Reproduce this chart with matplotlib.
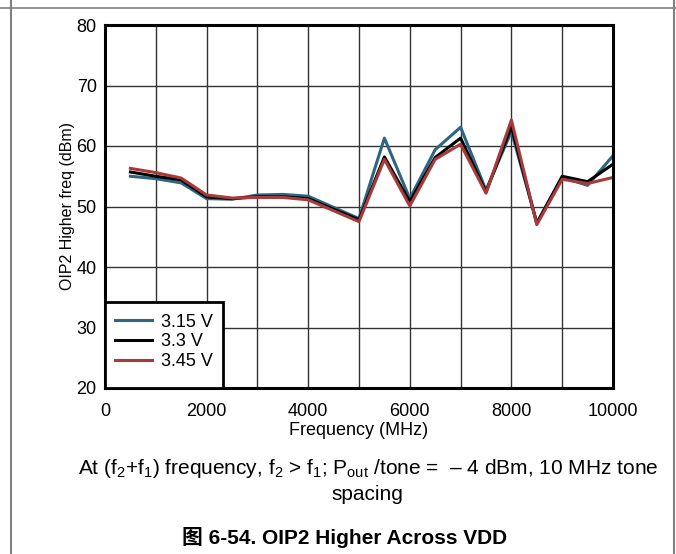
import matplotlib.pyplot as plt
from matplotlib.lines import Line2D
from matplotlib.patches import Rectangle

plt.rcParams['font.family'] = ['Liberation Sans', 'Noto Sans CJK SC', 'DejaVu Sans']
plt.rcParams['mathtext.fontset'] = 'custom'
plt.rcParams['mathtext.rm'] = 'Liberation Sans'
plt.rcParams['mathtext.it'] = 'Liberation Sans'

freq = [500, 1000, 1500, 2000, 2500, 3000, 3500, 4000, 5000, 5500,
        6000, 6500, 7000, 7500, 8000, 8500, 9000, 9500, 10000]
v315 = [55.0, 54.6, 53.9, 51.3, 51.2, 51.9, 52.0, 51.7, 48.0, 61.3,
        51.3, 59.4, 63.1, 52.7, 62.4, 47.3, 54.8, 53.5, 58.4]
v330 = [55.7, 55.0, 54.4, 51.6, 51.3, 51.6, 51.6, 51.3, 47.8, 58.2,
        50.8, 58.1, 61.3, 52.4, 63.2, 47.2, 55.0, 54.1, 57.0]
v345 = [56.3, 55.6, 54.7, 51.9, 51.4, 51.5, 51.5, 51.1, 47.5, 57.8,
        50.1, 57.8, 60.3, 52.2, 64.3, 47.0, 54.5, 53.8, 54.8]
labels = ["3.15 V", "3.3 V", "3.45 V"]
colors = ["#2e6580", "#000000", "#a83a3c"]

W, H = 676, 554
fig = plt.figure(figsize=(W / 100, H / 100), dpi=100)
ax = fig.add_axes([105 / W, 1 - 388 / H, (613 - 105) / W, (388 - 25) / H])

for ys, lab, c in zip([v315, v330, v345], labels, colors):
    ax.plot(freq, ys, color=c, lw=2.2, label=lab)

ax.set_xlim(0, 10000)
ax.set_ylim(20, 80)
ax.set_xticks(range(0, 10001, 2000))
ax.set_xticks(range(0, 10001, 1000), minor=True)
ax.set_yticks(range(20, 81, 10))
ax.grid(True, which='both', color='#333333', lw=1.0)
ax.tick_params(which='both', length=0, labelsize=13)
ax.tick_params(axis='x', pad=11)
ax.tick_params(axis='y', pad=6)
for s in ax.spines.values():
    s.set_linewidth(2.2)
    s.set_color('black')

ax.set_xlabel("Frequency (MHz)", fontsize=13, labelpad=1)
ax.set_ylabel("OIP2 Higher freq (dBm)", fontsize=11.5, labelpad=1)

# legend box (taller than matplotlib's padding allows, so drawn separately)
ax.add_patch(Rectangle((0, 0), 118 / 508, 86 / 363, transform=ax.transAxes,
                       facecolor='white', edgecolor='black', lw=2.0,
                       zorder=5, clip_on=False))
leg = ax.legend(loc='center', bbox_to_anchor=(59 / 508, 46 / 363),
                fontsize=13, frameon=False, handlelength=2.0,
                labelspacing=0.15, borderpad=0, handletextpad=0.5)
leg.set_zorder(6)

fig.text(368 / W, 1 - 468 / H,
         "At (f$_2$+f$_1$) frequency, f$_2$ > f$_1$; P$_{out}$ /tone =  \u2013 4 dBm, 10 MHz tone",
         ha='center', va='center', fontsize=15)
fig.text(367 / W, 1 - 494 / H, "spacing", ha='center', va='center', fontsize=15)
fig.text(345 / W, 1 - 537 / H, "图 6-54. OIP2 Higher Across VDD",
         ha='center', va='center', fontsize=15, fontweight='bold',
         family=['Liberation Sans', 'Noto Sans CJK SC'])

# table-cell frame lines
fig.add_artist(Line2D([0, 1], [1 - 7.5 / H, 1 - 7.5 / H], color='#7f7f7f', lw=1.2))
fig.add_artist(Line2D([10.5 / W, 10.5 / W], [0, 1], color='#7f7f7f', lw=1.5))
fig.add_artist(Line2D([673.5 / W, 673.5 / W], [0, 1], color='#7f7f7f', lw=1.5))

fig.savefig("out.png", dpi=100)
